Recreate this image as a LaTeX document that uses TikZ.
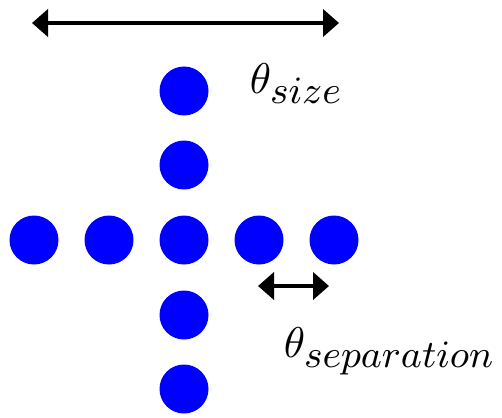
\documentclass[tikz,border=0pt]{standalone}
\usetikzlibrary{arrows.meta}
\DeclareMathSizes{10}{10}{9}{7}
\definecolor{dotblue}{RGB}{0,0,255}
\tikzset{
  dot/.style={circle,fill=dotblue,draw=none,minimum size=49pt,inner sep=0pt},
  dimarrow/.style={line width=4.5pt,{Triangle[length=16pt,width=27pt]}-{Triangle[length=16pt,width=27pt]}},
  lbl/.style={inner sep=0pt,anchor=base west,scale=4.3,font=\fontsize{10}{12}\selectfont}
}
\begin{document}
\begin{tikzpicture}[x=1pt,y=-1pt]
\useasboundingbox (0,0) rectangle (502,417);
% horizontal row
\node[dot] (h1) at (34,240) {};
\node[dot] (h2) at (109,240) {};
\node[dot] (c)  at (184,240) {};
\node[dot] (h4) at (259,240) {};
\node[dot] (h5) at (334,240) {};
% vertical column
\node[dot] (v1) at (184,91) {};
\node[dot] (v2) at (184,165) {};
\node[dot] (v4) at (184,315) {};
\node[dot] (v5) at (184,389) {};
% size arrow
\coordinate (sL) at (32,23);
\coordinate (sR) at (339,23);
\draw[dimarrow] (sL) -- (sR);
\node[lbl] (size) at (249,93) {$\theta_{size}$};
% separation arrow
\coordinate (pL) at (258,286);
\coordinate (pR) at (329,286);
\draw[dimarrow] (pL) -- (pR);
\node[lbl] (sep) at (283,357) {$\theta_{separation}$};
\end{tikzpicture}
\end{document}
